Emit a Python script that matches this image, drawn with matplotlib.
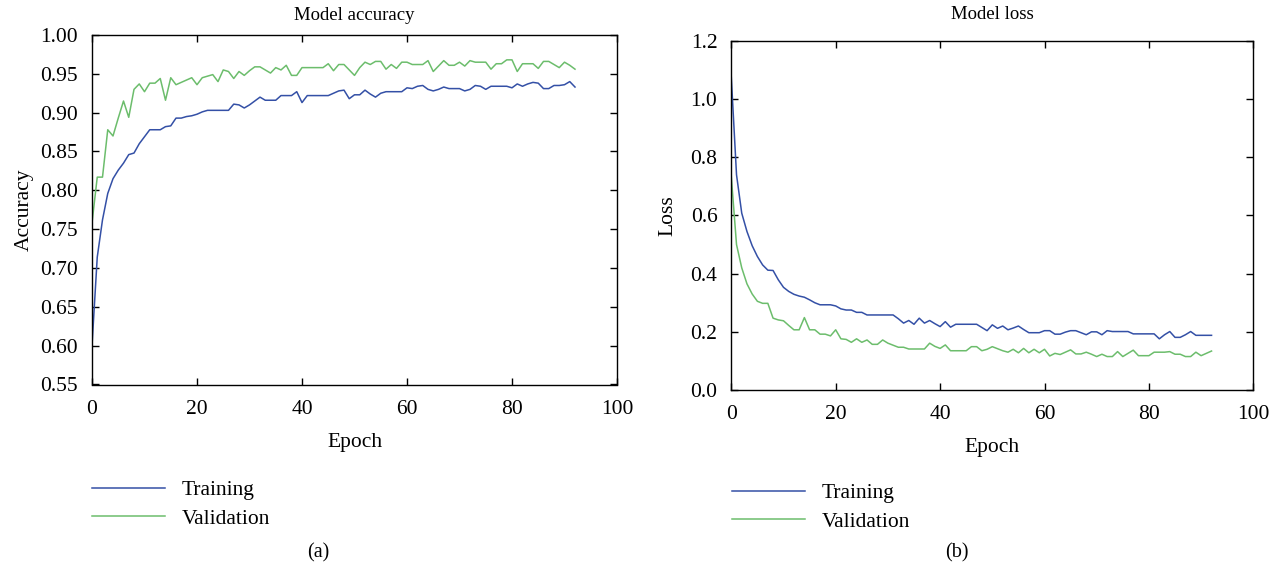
"""
Model accuracy / loss training curves, two panels side by side.
"""

import matplotlib
matplotlib.use("Agg")
import matplotlib.pyplot as plt
import numpy as np

# ---------------------------------------------------------------------------
# Data (one value per epoch 0..92)
# ---------------------------------------------------------------------------

acc_train = [
    0.600, 0.714, 0.762, 0.796, 0.815, 0.826, 0.835, 0.846, 0.848, 0.860,
    0.869, 0.878, 0.878, 0.878, 0.882, 0.883, 0.893, 0.893, 0.895, 0.896,
    0.898, 0.901, 0.903, 0.903, 0.903, 0.903, 0.903, 0.911, 0.910, 0.906,
    0.910, 0.915, 0.920, 0.916, 0.916, 0.916, 0.922, 0.922, 0.922, 0.927,
    0.913, 0.922, 0.922, 0.922, 0.922, 0.922, 0.925, 0.928, 0.929, 0.918,
    0.923, 0.923, 0.929, 0.924, 0.920, 0.925, 0.927, 0.927, 0.927, 0.927,
    0.932, 0.931, 0.934, 0.935, 0.930, 0.928, 0.930, 0.933, 0.931, 0.931,
    0.931, 0.928, 0.930, 0.935, 0.934, 0.930, 0.934, 0.934, 0.934, 0.934,
    0.932, 0.937, 0.934, 0.937, 0.939, 0.938, 0.931, 0.931, 0.935, 0.935,
    0.936, 0.940, 0.933,
]

acc_val = [
    0.758, 0.817, 0.817, 0.878, 0.870, 0.893, 0.915, 0.894, 0.930, 0.937,
    0.927, 0.938, 0.938, 0.944, 0.916, 0.945, 0.936, 0.939, 0.942, 0.945,
    0.936, 0.945, 0.947, 0.949, 0.940, 0.955, 0.953, 0.944, 0.953, 0.948,
    0.954, 0.959, 0.959, 0.955, 0.951, 0.958, 0.955, 0.961, 0.948, 0.948,
    0.958, 0.958, 0.958, 0.958, 0.958, 0.963, 0.954, 0.962, 0.962, 0.955,
    0.948, 0.958, 0.965, 0.962, 0.966, 0.966, 0.956, 0.962, 0.957, 0.965,
    0.965, 0.962, 0.962, 0.962, 0.967, 0.953, 0.960, 0.967, 0.961, 0.961,
    0.965, 0.960, 0.967, 0.965, 0.965, 0.965, 0.956, 0.963, 0.963, 0.968,
    0.968, 0.953, 0.963, 0.963, 0.963, 0.957, 0.966, 0.966, 0.962, 0.958,
    0.965, 0.961, 0.956,
]

loss_train = [
    1.075, 0.740, 0.608, 0.545, 0.496, 0.459, 0.430, 0.412, 0.411, 0.379,
    0.353, 0.339, 0.329, 0.323, 0.319, 0.310, 0.300, 0.293, 0.293, 0.293,
    0.289, 0.279, 0.275, 0.275, 0.267, 0.267, 0.258, 0.258, 0.258, 0.258,
    0.258, 0.258, 0.245, 0.230, 0.239, 0.226, 0.247, 0.230, 0.239, 0.228,
    0.218, 0.235, 0.216, 0.226, 0.226, 0.226, 0.226, 0.226, 0.215, 0.204,
    0.224, 0.212, 0.220, 0.207, 0.213, 0.220, 0.208, 0.197, 0.197, 0.197,
    0.204, 0.204, 0.192, 0.192, 0.199, 0.204, 0.204, 0.197, 0.190, 0.200,
    0.200, 0.190, 0.204, 0.201, 0.201, 0.201, 0.201, 0.193, 0.193, 0.193,
    0.193, 0.193, 0.176, 0.190, 0.201, 0.181, 0.181, 0.190, 0.201, 0.188,
    0.188, 0.188, 0.188,
]

loss_val = [
    0.734, 0.500, 0.420, 0.365, 0.330, 0.305, 0.298, 0.298, 0.247, 0.241,
    0.238, 0.222, 0.207, 0.207, 0.249, 0.207, 0.207, 0.192, 0.192, 0.186,
    0.207, 0.176, 0.174, 0.164, 0.176, 0.164, 0.172, 0.157, 0.157, 0.172,
    0.161, 0.154, 0.147, 0.147, 0.141, 0.141, 0.141, 0.141, 0.161, 0.150,
    0.143, 0.155, 0.135, 0.135, 0.135, 0.135, 0.149, 0.149, 0.135, 0.140,
    0.149, 0.142, 0.135, 0.130, 0.140, 0.128, 0.143, 0.128, 0.140, 0.128,
    0.140, 0.117, 0.126, 0.122, 0.130, 0.138, 0.124, 0.124, 0.130, 0.123,
    0.115, 0.123, 0.115, 0.115, 0.132, 0.115, 0.126, 0.137, 0.118, 0.118,
    0.118, 0.130, 0.130, 0.130, 0.132, 0.123, 0.123, 0.115, 0.115, 0.130,
    0.118, 0.126, 0.134,
]

acc_yticks = [0.55, 0.60, 0.65, 0.70, 0.75, 0.80, 0.85, 0.90, 0.95, 1.00]
loss_yticks = [0.0, 0.2, 0.4, 0.6, 0.8, 1.0, 1.2]
epoch_ticks = [0, 20, 40, 60, 80, 100]

BLUE = "#3450a6"
GREEN = "#6cbd6c"
FONT = "Liberation Serif"

plt.rcParams["font.family"] = [FONT, "DejaVu Serif"]


def style_axes(ax):
    ax.tick_params(direction="in", top=True, right=True, length=5, width=1,
                   labelsize=15.5)
    ax.tick_params(axis="y", pad=10)
    ax.tick_params(axis="x", pad=11)
    for sp in ax.spines.values():
        sp.set_linewidth(1.0)


fig = plt.figure(figsize=(12.76, 5.69), dpi=100)
W, H = 1276, 569

# left panel: accuracy
ax1 = fig.add_axes([92 / W, 1 - 384.5 / H, 525 / W, 349.5 / H])
epochs = np.arange(len(acc_train))
l1, = ax1.plot(epochs, acc_train, color=BLUE, lw=1.1, label="Training")
l2, = ax1.plot(epochs, acc_val, color=GREEN, lw=1.1, label="Validation")
ax1.set_xlim(0, 100)
ax1.set_ylim(0.55, 1.00)
ax1.set_xticks(epoch_ticks)
ax1.set_yticks(acc_yticks)
ax1.set_yticklabels([f"{v:.2f}" for v in acc_yticks])
style_axes(ax1)
ax1.set_title("Model accuracy", fontsize=13.5, pad=11)
ax1.set_xlabel("Epoch", fontsize=15.5, labelpad=10)
ax1.set_ylabel("Accuracy", fontsize=15.5, labelpad=5)

# right panel: loss
ax2 = fig.add_axes([731.3 / W, 1 - 390 / H, 522 / W, 349 / H])
ax2.plot(epochs, loss_train, color=BLUE, lw=1.1, label="Training")
ax2.plot(epochs, loss_val, color=GREEN, lw=1.1, label="Validation")
ax2.set_xlim(0, 100)
ax2.set_ylim(0.0, 1.2)
ax2.set_xticks(epoch_ticks)
ax2.set_yticks(loss_yticks)
ax2.set_yticklabels([f"{v:.1f}" for v in loss_yticks])
style_axes(ax2)
ax2.set_title("Model loss", fontsize=13.5, pad=15.5)
ax2.set_xlabel("Epoch", fontsize=15.5, labelpad=10)
ax2.set_ylabel("Loss", fontsize=15.5, labelpad=9)

# legends below each panel, no frame
leg_kw = dict(frameon=False, fontsize=15.5, handlelength=3.4, handletextpad=0.75,
              labelspacing=0.4, borderpad=0, borderaxespad=0, loc="upper left")
fig.legend(handles=[l1, l2], bbox_to_anchor=(92 / W, 1 - 480 / H), **leg_kw)
fig.legend(handles=[l1, l2], bbox_to_anchor=(732 / W, 1 - 483 / H), **leg_kw)

# panel captions
fig.text(318 / W, 1 - 553 / H, "(a)", ha="center", va="center", fontsize=14.5)
fig.text(957 / W, 1 - 553 / H, "(b)", ha="center", va="center", fontsize=14.5)

fig.savefig("out.png", dpi=100)
